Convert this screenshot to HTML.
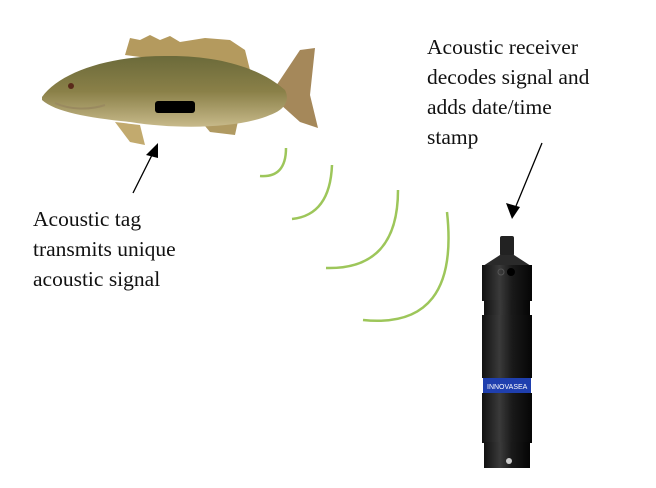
<!DOCTYPE html>
<html><head><style>
body{margin:0;width:656px;height:488px;background:#fff;overflow:hidden;position:relative;font-family:"Liberation Serif","DejaVu Serif",serif;}
.t{position:absolute;font-size:21.5px;line-height:30px;color:#111;}
</style></head><body>
<svg width="656" height="488" style="position:absolute;left:0;top:0">
<defs>
<linearGradient id="fb" x1="0" y1="0" x2="0" y2="1">
<stop offset="0" stop-color="#6b6a3a"/><stop offset="0.5" stop-color="#8a8048"/><stop offset="1" stop-color="#c7b98a"/></linearGradient>
<linearGradient id="cyl" x1="0" y1="0" x2="1" y2="0">
<stop offset="0" stop-color="#111"/><stop offset="0.35" stop-color="#3a3a3a"/><stop offset="0.6" stop-color="#1a1a1a"/><stop offset="1" stop-color="#050505"/></linearGradient>
</defs>
<!-- fins -->
<path d="M125,55 L130,38 L140,40 L150,35 L160,40 L170,36 L180,42 L205,38 L230,40 L245,50 L250,70 L200,65 Z" fill="#b49a5e"/>
<path d="M270,95 L300,50 L315,48 L310,95 L318,128 L300,122 Z" fill="#a5885a"/>
<path d="M115,122 L140,125 L145,145 L130,142 Z" fill="#c2aa6e"/>
<path d="M200,120 L240,112 L235,135 L210,132 Z" fill="#b09a62"/>
<!-- body -->
<path d="M42,97 C60,72 110,55 170,56 C220,56 260,68 285,90 C290,100 285,110 270,115 C240,128 180,130 130,122 C90,118 55,112 42,100 Z" fill="url(#fb)"/>
<circle cx="71" cy="86" r="3" fill="#5a2a1a"/>
<path d="M55,103 C70,110 90,110 105,105" stroke="#9a8a60" stroke-width="2" fill="none"/>
<rect x="155" y="101" width="40" height="12" rx="3" fill="#000"/>
<!-- arrows -->
<line x1="133" y1="193" x2="152" y2="155" stroke="#000" stroke-width="1.3"/>
<polygon points="158,143 146,155 158,158" fill="#000"/>
<line x1="542" y1="143" x2="516" y2="206" stroke="#000" stroke-width="1.3"/>
<polygon points="512,219 506,203 520,207" fill="#000"/>
<!-- arcs -->
<g stroke="#9dc65a" stroke-width="2.5" fill="none">
<path d="M260,176 Q286,178 286,148"/>
<path d="M292,219 Q330,215 332,165"/>
<path d="M326,268 Q398,270 398,190"/>
<path d="M363,320 Q460,330 447,212"/>
</g>
<!-- receiver -->
<rect x="500" y="236" width="14" height="20" rx="2" fill="#222"/>
<path d="M500,255 L514,255 L531,266 L483,266 Z" fill="#2a2a2a"/>
<rect x="482" y="265" width="50" height="36" fill="url(#cyl)"/>
<rect x="484" y="300" width="46" height="16" fill="url(#cyl)"/>
<rect x="482" y="315" width="50" height="63" fill="url(#cyl)"/>
<rect x="483" y="378" width="48" height="15" fill="#1f3fae"/>
<text x="487" y="389" font-size="7" fill="#fff" font-family="Liberation Sans,sans-serif">INNOVASEA</text>
<rect x="482" y="393" width="50" height="50" fill="url(#cyl)"/>
<rect x="484" y="442" width="46" height="26" fill="url(#cyl)"/>
<circle cx="509" cy="461" r="3" fill="#ccc"/>
<circle cx="501" cy="272" r="3" fill="none" stroke="#555"/>
<circle cx="511" cy="272" r="4" fill="#000"/>
</svg>
<div class="t" style="left:427px;top:32px">Acoustic receiver<br>decodes signal and<br>adds date/time<br>stamp</div>
<div class="t" style="left:33px;top:204px">Acoustic tag<br>transmits unique<br>acoustic signal</div>
</body></html>
